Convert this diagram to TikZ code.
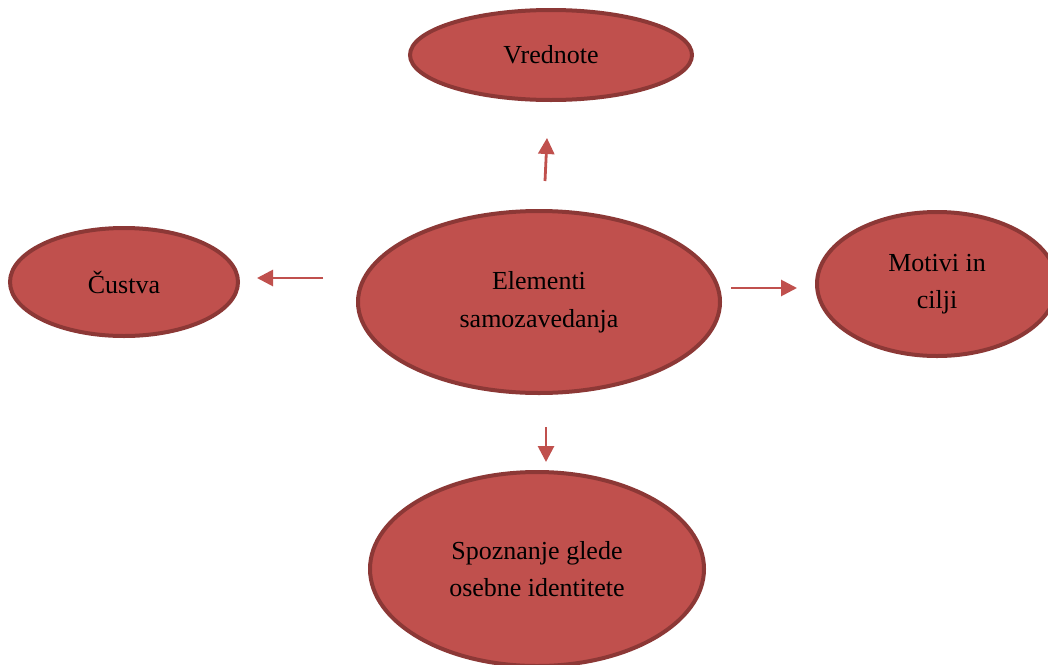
\documentclass[tikz,border=0pt]{standalone}
\usepackage{fontspec}
\setmainfont{Liberation Serif}
\usetikzlibrary{shapes.geometric,arrows.meta}
\definecolor{bubblefill}{HTML}{C0504D}
\definecolor{bubbleedge}{HTML}{8C3836}
\definecolor{arrowred}{HTML}{C0504D}
\tikzset{
  bubble/.style={ellipse, draw=bubbleedge, fill=bubblefill, line width=4pt,
    inner sep=0pt, align=center, text=black,
    font=\fontsize{26}{37}\selectfont},
  arr/.style={draw=arrowred, line width=2.8pt,
    -{Triangle[length=16pt,width=16pt]}}
}
\begin{document}
\begin{tikzpicture}[x=1pt,y=-1pt]
\useasboundingbox (0,0) rectangle (1048,664);
\clip (0,0) rectangle (1048,664);
\fill[white] (0,0) rectangle (1048,664);

\node[bubble, minimum width=282pt, minimum height=90pt] (vr) at (551,55) {Vrednote};
\node[bubble, minimum width=228pt, minimum height=108pt] (cu) at (124,282) {Čustva};
\node[bubble, minimum width=362pt, minimum height=182pt,
      font=\fontsize{26}{38}\selectfont] (el) at (539,302) {Elementi\\samozavedanja};
\node[bubble, minimum width=240pt, minimum height=144pt] (mo) at (937,284) {Motivi in\\cilji};
\node[bubble, minimum width=334pt, minimum height=194pt] (sp) at (537,569) {Spoznanje glede\\osebne identitete};

% free-standing arrows between the centre and the outer ellipses
\coordinate (vrS) at (545,181);
\coordinate (vrE) at (547,138);
\draw[arr] (vrS) -- (vrE);
\coordinate (cuS) at (323,278);
\coordinate (cuE) at (257,278);
\draw[arr] (cuS) -- (cuE);
\coordinate (moS) at (731,288);
\coordinate (moE) at (797,288);
\draw[arr] (moS) -- (moE);
\coordinate (spS) at (546,427);
\coordinate (spE) at (546,462);
\draw[arr] (spS) -- (spE);
\end{tikzpicture}
\end{document}
